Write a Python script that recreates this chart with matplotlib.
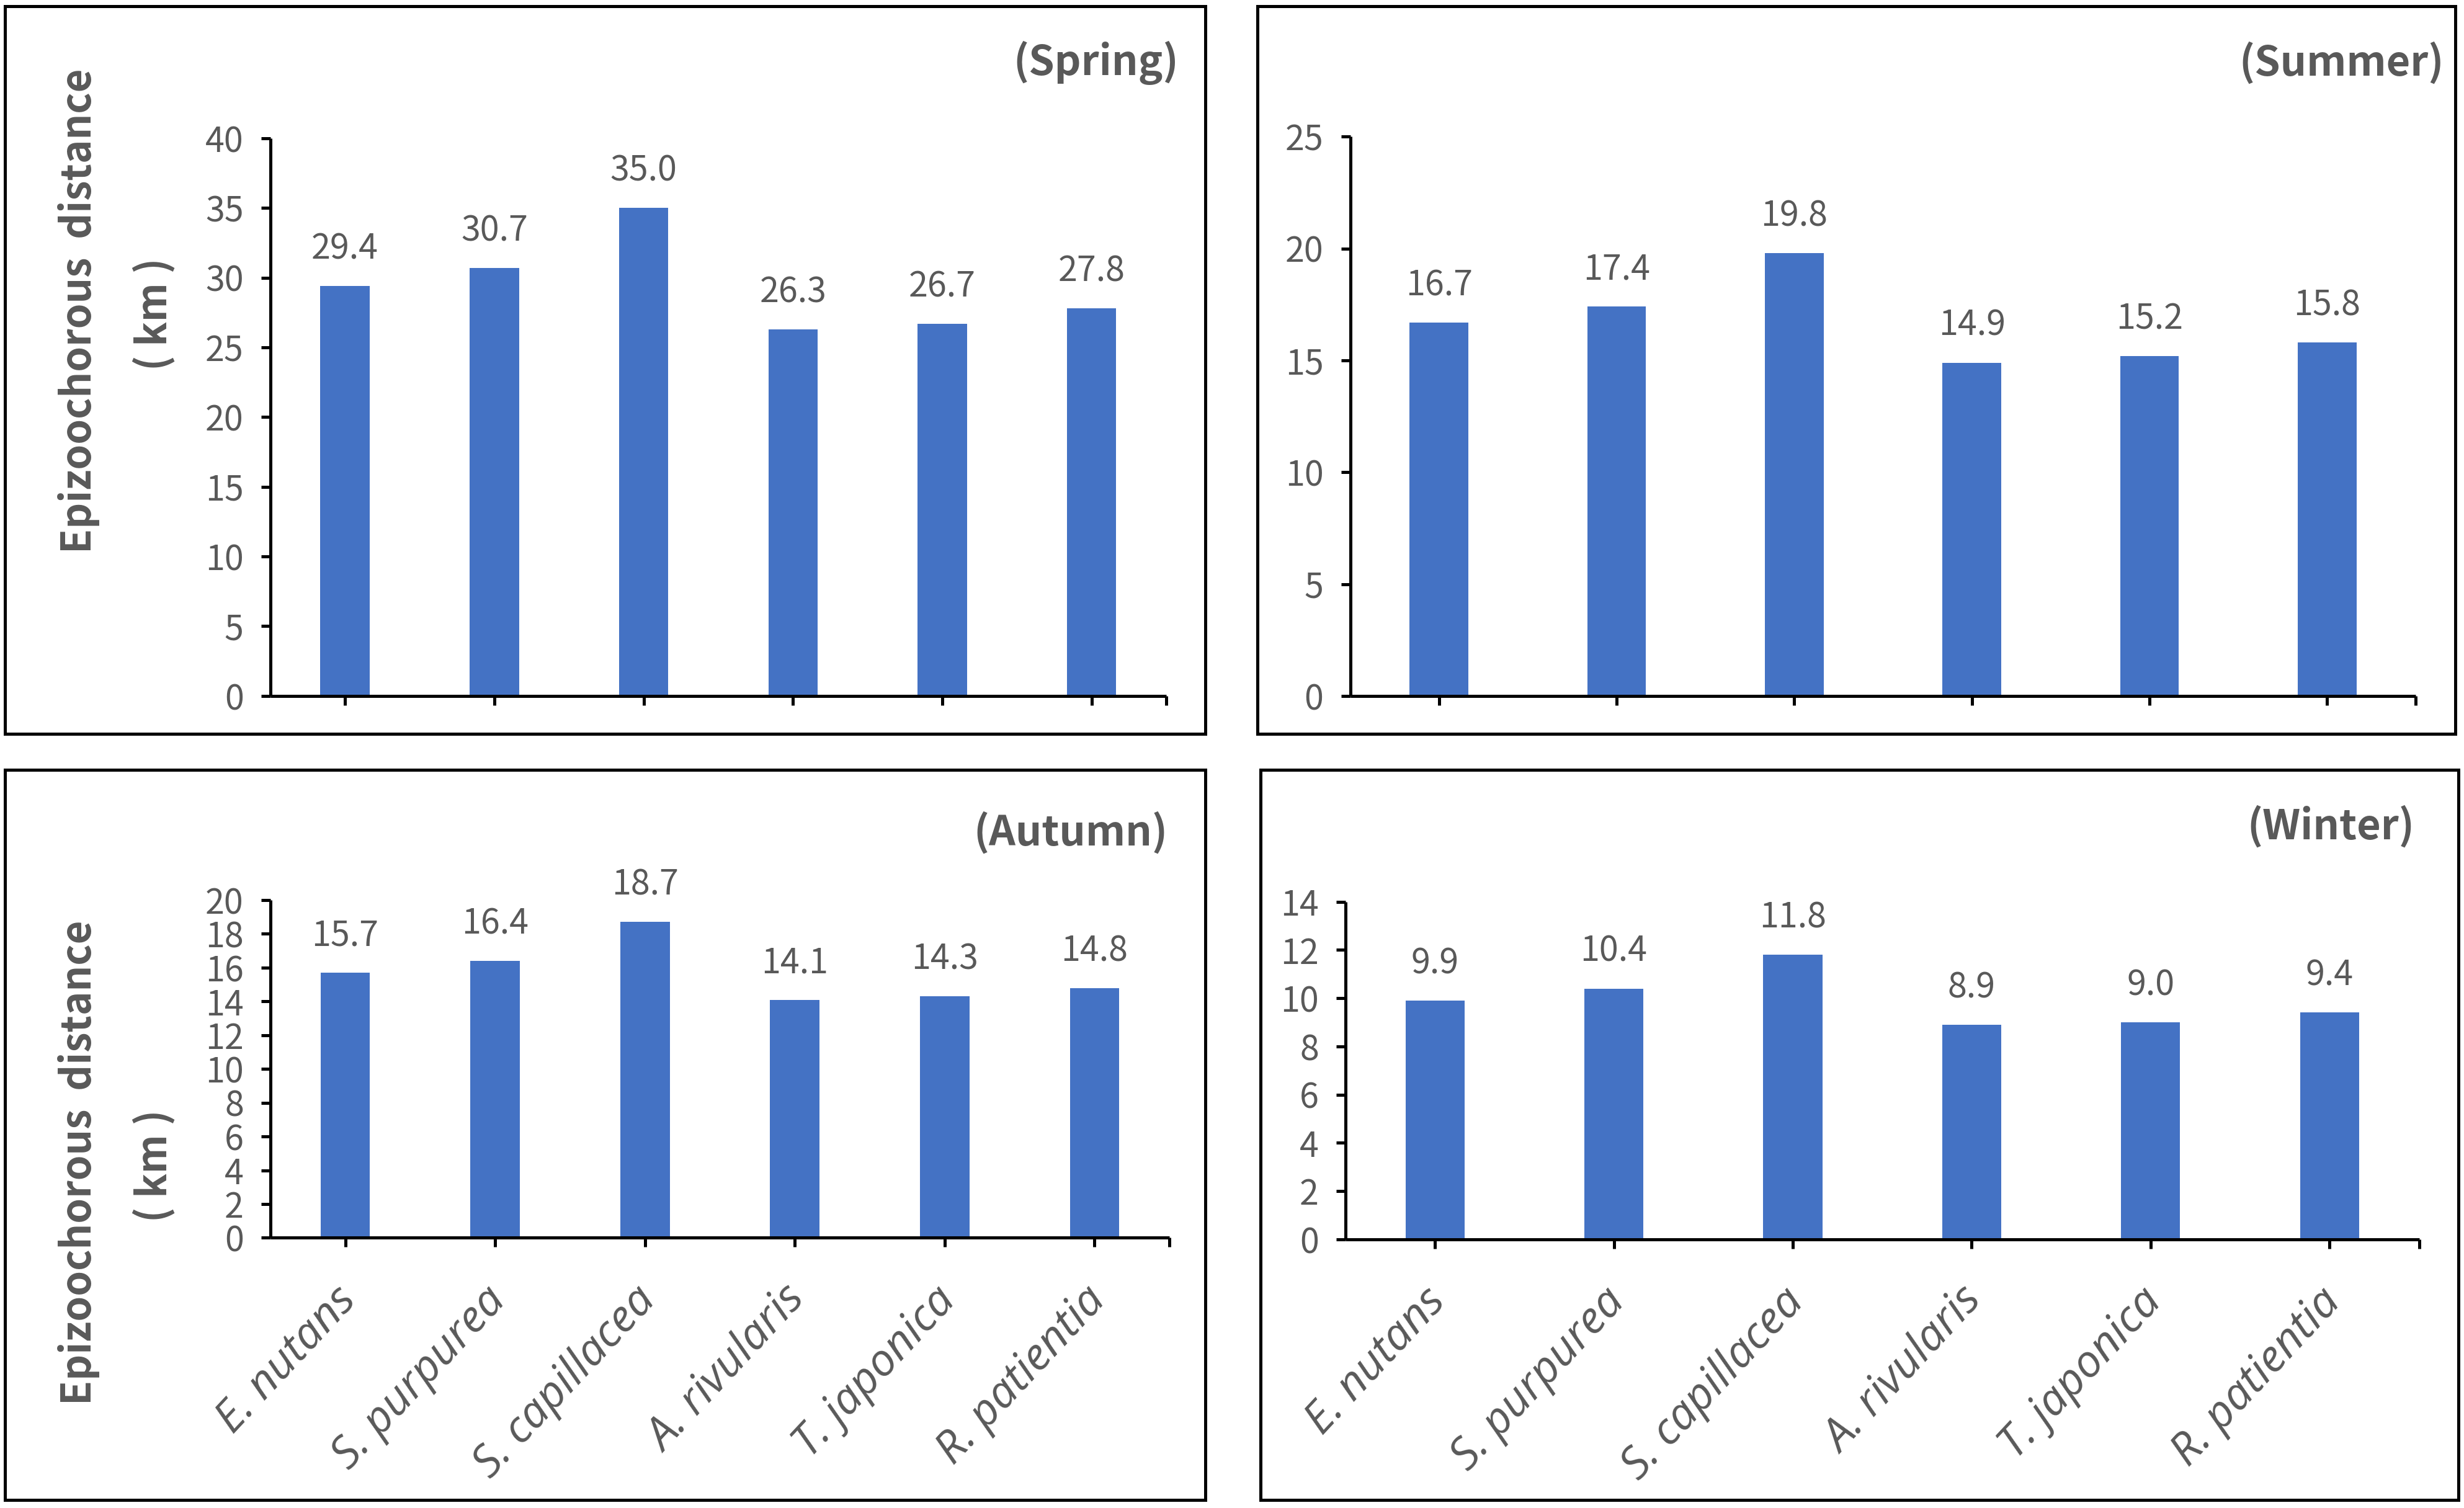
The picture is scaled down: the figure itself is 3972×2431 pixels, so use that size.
import matplotlib
matplotlib.use('Agg')
import matplotlib.pyplot as plt
from matplotlib.patches import Rectangle
from matplotlib.transforms import ScaledTranslation

plt.rcParams['font.family'] = ['Noto Sans CJK SC', 'DejaVu Sans']

especies = ['E. nutans', 'S. purpurea', 'S. capillacea', 'A. rivularis', 'T. japonica', 'R. patientia']
primavera = [29.4, 30.7, 35.0, 26.3, 26.7, 27.8]
verano = [16.7, 17.4, 19.8, 14.9, 15.2, 15.8]
otono = [15.7, 16.4, 18.7, 14.1, 14.3, 14.8]
invierno = [9.9, 10.4, 11.8, 8.9, 9.0, 9.4]
estaciones = ['(Spring)', '(Summer)', '(Autumn)', '(Winter)']
ylims = [(0, 40, 5), (0, 25, 5), (0, 20, 2), (0, 14, 2)]

gris = '#595959'
azul = '#4472C4'
W, H = 1568.0, 960.0  # medidas en pixeles de la imagen de referencia

def fx(x):
    return x / W

def fy(y):
    return 1 - y / H

fig = plt.figure(figsize=(39.73, 24.31), dpi=100)

# cajas alrededor de cada panel
cajas = [(3, 4, 767, 467), (800, 4, 1562, 467), (3, 490, 767, 955), (802, 490, 1564, 955)]
for x0, y0, x1, y1 in cajas:
    fig.patches.append(Rectangle((fx(x0), fy(y1)), fx(x1 - x0), (y1 - y0) / H,
                                 transform=fig.transFigure, fill=False,
                                 edgecolor='black', linewidth=3.6))

# posiciones de los ejes (izq, der, arriba, abajo)
posiciones = [(172, 742, 88, 443), (859, 1537, 87, 443), (172, 744, 573, 788), (856, 1539, 574, 789)]
titulos_pos = [(750, 40), (1555, 40), (743, 530), (1536, 526)]
datos = [primavera, verano, otono, invierno]

# pequeño corrimiento de las etiquetas de especies
corrimiento = ScaledTranslation(-0.2, -0.08, fig.dpi_scale_trans)

for k in range(4):
    x0, x1, y0, y1 = posiciones[k]
    ax = fig.add_axes([fx(x0), fy(y1), fx(x1 - x0), (y1 - y0) / H])
    xs = list(range(len(especies)))
    barras = ax.bar(xs, datos[k], width=0.33, color=azul)
    ax.bar_label(barras, labels=[f'{v:.1f}' for v in datos[k]], padding=22,
                 fontsize=40, color=gris)
    ymin, ymax, paso = ylims[k]
    ax.set_ylim(ymin, ymax)
    ax.set_yticks(range(ymin, ymax + 1, paso))
    ax.set_xlim(-0.5, 5.5)
    ax.set_xticks(xs + [5.5])
    for s in ['top', 'right']:
        ax.spines[s].set_visible(False)
    for s in ['left', 'bottom']:
        ax.spines[s].set_linewidth(3.6)
        ax.spines[s].set_capstyle('butt')
    ax.tick_params(axis='both', length=11, width=3.6, colors='black',
                   labelcolor=gris, labelsize=40)
    ax.tick_params(axis='y', pad=20)
    ax.tick_params(axis='x', pad=30)
    if k >= 2:
        ax.set_xticklabels(especies + [''], rotation=47, ha='right',
                           rotation_mode='anchor', fontstyle='italic',
                           family=['Open Sans', 'DejaVu Sans'], fontsize=52)
        for t in ax.get_xticklabels():
            t.set_transform(t.get_transform() + corrimiento)
    else:
        ax.set_xticklabels([''] * 7)
    tx, ty = titulos_pos[k]
    fig.text(fx(tx), fy(ty), estaciones[k], ha='right', va='center',
             fontsize=48, fontweight='bold', color=gris)

# etiquetas del eje y (solo columna izquierda)
for yc in [198, 740]:
    fig.text(fx(50), fy(yc), 'Epizoochorous  distance', rotation=90, ha='center',
             va='center', fontsize=47, fontweight='bold', color=gris)
    fig.text(fx(98), fy(yc + 2), '( km )', rotation=90, ha='center',
             va='center', fontsize=47, fontweight='bold', color=gris)

fig.savefig('out.png', dpi=100)
